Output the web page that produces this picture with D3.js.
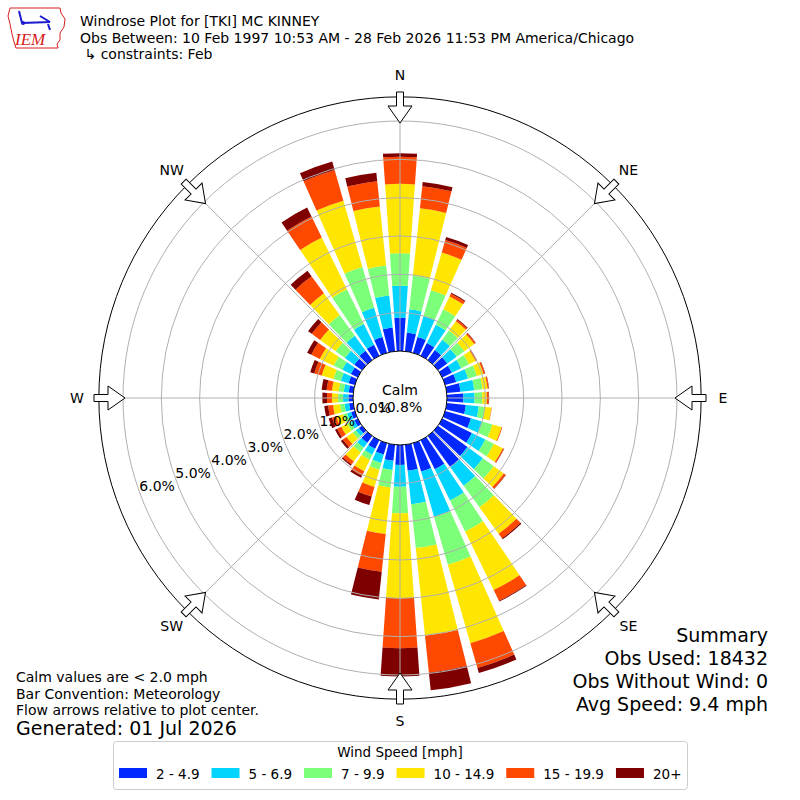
<!DOCTYPE html>
<html>
<head>
<meta charset="utf-8">
<script src="https://cdn.jsdelivr.net/npm/d3@7"></script>
<style>
  body { margin: 0; background: #fff; }
  text { font-family: "DejaVu Sans", sans-serif; fill: #000; }
</style>
</head>
<body>
<svg id="chart" width="800" height="800"></svg>
<script>
const directions = d3.range(0, 360, 10);
const speedBins = ["2 - 4.9", "5 - 6.9", "7 - 9.9", "10 - 14.9", "15 - 19.9", "20+"];
const binColors = ["#0028ff", "#00d4ff", "#7cff79", "#ffe600", "#ff4800", "#7f0000"];

//                0     10    20    30    40    50    60    70    80    90    100   110   120   130   140   150   160   170   180   190   200   210   220   230   240   250   260   270   280   290   300   310   320   330   340   350
const pct2to5   = [0.87, 0.49, 0.43, 0.37, 0.32, 0.30, 0.28, 0.30, 0.36, 0.43, 0.50, 0.70, 0.86, 0.95, 1.00, 0.84, 0.77, 0.68, 0.52, 0.42, 0.31, 0.25, 0.22, 0.10, 0.10, 0.10, 0.11, 0.12, 0.12, 0.17, 0.20, 0.25, 0.30, 0.32, 0.43, 0.62];
const pct5to7   = [0.83, 0.61, 0.57, 0.53, 0.33, 0.30, 0.27, 0.32, 0.36, 0.29, 0.34, 0.30, 0.39, 0.50, 0.60, 0.91, 1.23, 0.88, 0.57, 0.24, 0.23, 0.17, 0.16, 0.10, 0.10, 0.11, 0.12, 0.14, 0.13, 0.21, 0.25, 0.30, 0.48, 0.60, 0.79, 0.84];
const pct7to10  = [0.85, 0.89, 0.70, 0.45, 0.30, 0.25, 0.23, 0.24, 0.22, 0.20, 0.16, 0.28, 0.25, 0.35, 0.70, 0.90, 1.30, 1.15, 0.69, 0.46, 0.18, 0.15, 0.14, 0.10, 0.10, 0.11, 0.12, 0.13, 0.13, 0.20, 0.25, 0.30, 0.67, 1.01, 1.11, 0.79];
const pct10to15 = [1.81, 1.76, 1.02, 0.37, 0.30, 0.32, 0.19, 0.18, 0.13, 0.12, 0.17, 0.25, 0.26, 0.32, 0.85, 1.70, 2.13, 2.30, 2.22, 1.22, 0.47, 0.33, 0.30, 0.20, 0.18, 0.18, 0.18, 0.16, 0.18, 0.32, 0.40, 0.50, 0.70, 1.50, 1.80, 1.55];
const pct15to20 = [0.71, 0.58, 0.34, 0.08, 0.05, 0.04, 0.03, 0.04, 0.03, 0.05, 0.01, 0.02, 0.03, 0.06, 0.15, 0.31, 0.67, 0.97, 1.30, 0.99, 0.26, 0.13, 0.10, 0.12, 0.12, 0.12, 0.13, 0.13, 0.14, 0.20, 0.25, 0.27, 0.55, 0.61, 0.83, 0.66];
const pct20plus = [0.09, 0.11, 0.08, 0.03, 0.02, 0.01, 0.01, 0.01, 0.01, 0.01, 0.00, 0.00, 0.01, 0.01, 0.03, 0.02, 0.14, 0.46, 0.74, 0.73, 0.23, 0.06, 0.04, 0.06, 0.06, 0.09, 0.10, 0.12, 0.13, 0.11, 0.12, 0.12, 0.18, 0.26, 0.23, 0.22];
const binValues = [pct2to5, pct5to7, pct7to10, pct10to15, pct15to20, pct20plus];

const calmPct = 10.8;
const ringTicks = [0, 1, 2, 3, 4, 5, 6];
const compassNames = ["N", "NE", "E", "SE", "S", "SW", "W", "NW"];
const compassAngles = [0, 45, 90, 135, 180, 225, 270, 315];

const titleLines = ["Windrose Plot for [TKI] MC KINNEY",
                    "Obs Between: 10 Feb 1997 10:53 AM - 28 Feb 2026 11:53 PM America/Chicago",
                    " \u21B3 constraints: Feb"];
const noteLines = ["Calm values are < 2.0 mph", "Bar Convention: Meteorology", "Flow arrows relative to plot center."];
const generatedText = "Generated: 01 Jul 2026";
const summaryLines = ["Summary", "Obs Used: 18432", "Obs Without Wind: 0", "Avg Speed: 9.4 mph"];

// ---- layout ----
const cx = 400, cy = 398;
const rScale = d3.scaleLinear().domain([0, 6]).range([47, 277]);
const rMaxValue = 6.63;
const barWidthDeg = 8;
const rad = (deg) => deg * Math.PI / 180;

const svg = d3.select("#chart");
const plot = svg.append("g").attr("transform", `translate(${cx},${cy})`);

// stacked bars
const keys = speedBins.map((s, i) => "b" + i);
const table = directions.map((dir, i) => {
  const row = { dir: dir };
  keys.forEach((k, j) => { row[k] = binValues[j][i]; });
  return row;
});
const series = d3.stack().keys(keys)(table);

const barArc = d3.arc()
  .innerRadius(d => rScale(d[0]))
  .outerRadius(d => rScale(d[1]))
  .startAngle(d => rad(d.data.dir - barWidthDeg / 2))
  .endAngle(d => rad(d.data.dir + barWidthDeg / 2));

plot.selectAll("g.bin")
  .data(series)
  .join("g")
  .attr("class", "bin")
  .attr("fill", (d, i) => binColors[i])
  .selectAll("path")
  .data(d => d.filter(s => s[1] > s[0]))
  .join("path")
  .attr("d", barArc);

// grid rings and spokes (drawn over the bars)
plot.selectAll("circle.ring")
  .data(ringTicks.filter(t => t > 0))
  .join("circle")
  .attr("class", "ring")
  .attr("r", d => rScale(d))
  .attr("fill", "none")
  .attr("stroke", "#b0b0b0")
  .attr("stroke-width", 1);

plot.selectAll("line.spoke")
  .data(compassAngles)
  .join("line")
  .attr("class", "spoke")
  .attr("x1", d => rScale(0) * Math.sin(rad(d)))
  .attr("y1", d => -rScale(0) * Math.cos(rad(d)))
  .attr("x2", d => rScale(rMaxValue) * Math.sin(rad(d)))
  .attr("y2", d => -rScale(rMaxValue) * Math.cos(rad(d)))
  .attr("stroke", "#b0b0b0")
  .attr("stroke-width", 1);

// outer frame
plot.append("circle")
  .attr("r", rScale(rMaxValue))
  .attr("fill", "none")
  .attr("stroke", "#000")
  .attr("stroke-width", 1);

// calm circle
plot.append("circle")
  .attr("r", rScale(0))
  .attr("fill", "#fff")
  .attr("stroke", "#000")
  .attr("stroke-width", 1);

plot.append("text")
  .attr("x", 0).attr("y", -8)
  .attr("text-anchor", "middle")
  .attr("dominant-baseline", "central")
  .style("font-size", "14px")
  .text("Calm");

plot.append("text")
  .attr("x", 0).attr("y", 9)
  .attr("text-anchor", "middle")
  .attr("dominant-baseline", "central")
  .style("font-size", "14px")
  .text(calmPct.toFixed(1) + "%");

// ring labels along 250 degrees
const labelAngle = rad(250);
plot.selectAll("text.rlabel")
  .data(ringTicks)
  .join("text")
  .attr("class", "rlabel")
  .attr("x", d => (rScale(d) - 18.5) * Math.sin(labelAngle))
  .attr("y", d => -(rScale(d) - 18.5) * Math.cos(labelAngle))
  .attr("text-anchor", "middle")
  .attr("dominant-baseline", "central")
  .style("font-size", "14px")
  .text(d => d.toFixed(1) + "%");

// compass arrows pointing to the center
const arrowPts = [[-3.5, -306], [3.5, -306], [3.5, -292], [12, -292], [0, -275], [-12, -292], [-3.5, -292]];
plot.selectAll("polygon.arrow")
  .data(compassAngles)
  .join("polygon")
  .attr("class", "arrow")
  .attr("points", arrowPts.map(p => p.join(",")).join(" "))
  .attr("transform", d => `rotate(${d})`)
  .attr("fill", "#fff")
  .attr("stroke", "#000")
  .attr("stroke-width", 1);

plot.selectAll("text.compass")
  .data(compassAngles)
  .join("text")
  .attr("class", "compass")
  .attr("x", d => 323 * Math.sin(rad(d)))
  .attr("y", d => -323 * Math.cos(rad(d)))
  .attr("text-anchor", "middle")
  .attr("dominant-baseline", "central")
  .style("font-size", "14px")
  .text((d, i) => compassNames[i]);

// header
svg.selectAll("text.title")
  .data(titleLines)
  .join("text")
  .attr("class", "title")
  .attr("x", 80)
  .attr("y", (d, i) => 26 + i * 16.5)
  .style("font-size", "14px")
  .style("white-space", "pre")
  .text(d => d);

// IEM logo (simplified)
const logo = svg.append("g");
logo.append("path")
  .attr("d", "M10,8 L60,8 L61,13 L65,19 L64,27 L60,33 L60,40 L57,44 L58,48 L16,48 L14,42 L12,34 L10,24 L8,16 Z")
  .attr("fill", "#fff")
  .attr("stroke", "#d62020")
  .attr("stroke-width", 1);
logo.append("path")
  .attr("d", "M22,23 L50,22 M40,16 L50,22 M19,11 L22,23 M48,24 L50,30")
  .attr("fill", "none")
  .attr("stroke", "#1a1ad0")
  .attr("stroke-width", 2);
logo.append("circle").attr("cx", 23).attr("cy", 23).attr("r", 2).attr("fill", "#1a1ad0");
logo.append("text")
  .attr("x", 15).attr("y", 45)
  .style("font-family", "Liberation Serif, serif")
  .style("font-style", "italic")
  .style("font-size", "17px")
  .style("fill", "#d62020")
  .text("IEM");

// footnotes
svg.selectAll("text.note")
  .data(noteLines)
  .join("text")
  .attr("class", "note")
  .attr("x", 16)
  .attr("y", (d, i) => 682 + i * 16.5)
  .style("font-size", "14px")
  .text(d => d);

svg.append("text")
  .attr("x", 16).attr("y", 735)
  .style("font-size", "19px")
  .text(generatedText);

svg.selectAll("text.summary")
  .data(summaryLines)
  .join("text")
  .attr("class", "summary")
  .attr("x", 768)
  .attr("y", (d, i) => 642 + i * 23)
  .attr("text-anchor", "end")
  .style("font-size", "19px")
  .text(d => d);

// legend
const legend = svg.append("g");
legend.append("rect")
  .attr("x", 113.5).attr("y", 741.5)
  .attr("width", 574).attr("height", 48)
  .attr("rx", 3)
  .attr("fill", "#fff")
  .attr("stroke", "#cccccc");
legend.append("text")
  .attr("x", 400).attr("y", 757)
  .attr("text-anchor", "middle")
  .style("font-size", "13.5px")
  .text("Wind Speed [mph]");

let lx = 119;
speedBins.forEach((label, i) => {
  legend.append("rect")
    .attr("x", lx).attr("y", 768)
    .attr("width", 28).attr("height", 10)
    .attr("fill", binColors[i]);
  const t = legend.append("text")
    .attr("x", lx + 37).attr("y", 779)
    .style("font-size", "13.5px")
    .text(label);
  lx = lx + 37 + t.node().getComputedTextLength() + 12;
});
</script>
</body>
</html>
